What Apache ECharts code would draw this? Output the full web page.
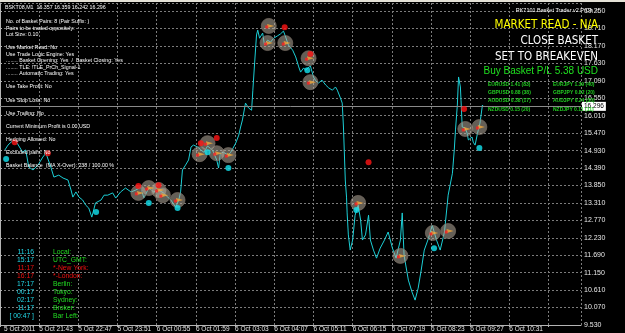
<!DOCTYPE html>
<html><head><meta charset="utf-8">
<script src="https://cdn.jsdelivr.net/npm/echarts@6/dist/echarts.min.js"></script>
<style>html,body{margin:0;padding:0;background:#000;}#c{width:625px;height:333px;}</style>
</head><body><div id="c"></div>
<script>
// ---- data ----
const symbolTitle = 'BSKT08,M1  16.357 16.359 16.242 16.296';
const xLabels = ['5 Oct 2011','5 Oct 21:43','5 Oct 22:47','5 Oct 23:51','6 Oct 00:55','6 Oct 01:59','6 Oct 03:03','6 Oct 04:07','6 Oct 05:11','6 Oct 06:15','6 Oct 07:19','6 Oct 08:23','6 Oct 09:27','6 Oct 10:31'];
const yLabels = ['9.530','10.070','10.610','11.150','11.690','12.230','12.770','13.310','13.850','14.390','14.930','15.470','16.010','16.550','17.090','17.630','18.170','18.710','19.250'];
// minutes since chart start, basket price
const pricePath = [
[8,14.95],[13,15.10],[18,15.19],[23,15.26],[28,15.16],[31,15.10],[37,14.88],[42,14.95],[47,14.42],[54,14.33],
[62,14.48],[70,14.73],[75,14.85],[83,14.42],[88,14.11],[96,14.17],[103,14.08],[111,14.02],[116,13.71],[119,13.49],
[124,13.65],[129,13.49],[135,13.40],[140,13.24],[145,13.15],[150,12.87],[156,13.31],[165,13.40],[170,13.55],[176,13.55],
[184,13.62],[189,13.46],[197,13.65],[205,13.77],[214,13.65],[222,13.71],[230,13.80],[235,13.46],[243,13.77],[251,13.65],
[259,13.71],[267,13.62],[274,13.49],[279,13.40],[287,13.18],[292,13.40],[295,13.65],[298,14.33],[303,14.48],[308,14.64],
[312,15.04],[316,15.10],[323,15.04],[328,14.95],[333,14.88],[339,15.07],[347,14.95],[354,14.64],[357,14.39],[360,14.85],
[365,14.88],[373,14.79],[377,14.88],[385,15.16],[390,15.41],[393,15.66],[396,15.88],[401,16.40],[406,16.25],[411,16.18],
[413,16.80],[416,17.67],[419,18.51],[421,18.66],[424,18.41],[429,18.57],[432,18.20],[437,18.35],[442,18.29],[447,18.41],
[453,18.48],[458,18.54],[463,18.63],[466,18.48],[471,18.20],[478,18.04],[483,17.83],[488,17.52],[491,17.36],[496,17.49],
[499,17.42],[502,17.36],[507,17.55],[512,17.21],[515,17.11],[520,17.02],[526,17.11],[532,16.96],[537,16.87],[543,16.80],
[548,16.90],[551,16.80],[556,16.56],[559,16.40],[561,15.66],[564,14.02],[566,13.49],[567,13.00],[569,12.32],[572,11.85],
[576,12.16],[580,12.93],[585,13.24],[589,12.78],[592,12.16],[597,12.32],[602,12.93],[605,12.16],[610,11.85],[615,11.60],
[621,11.91],[628,12.16],[634,12.41],[641,11.91],[647,11.60],[654,12.16],[657,13.00],[660,11.69],[667,10.92],[673,10.55],
[678,10.30],[683,10.67],[688,11.23],[693,11.85],[700,12.22],[706,12.62],[713,12.16],[719,11.85],[726,12.41],[732,13.55],
[739,14.23],[742,14.95],[744,15.57],[747,16.34],[749,17.21],[752,16.90],[753,16.49],[755,15.66],[760,15.63],[763,15.47],
[765,15.26],[771,15.35],[773,15.19],[776,15.10],[780,15.47],[784,15.78],[788,16.34],[789,16.296]
];
const tradeMarks = [[226,13.62],[243,13.77],[259,13.71],[266,13.55],[290,13.40],[326,14.82],[339,15.16],[354,14.85],[373,14.79],
[439,18.79],[437,18.26],[466,18.26],[504,17.79],[507,17.05],[585,13.31],[654,11.67],[707,12.38],[732,12.44],[760,15.60],[783,15.66]];
const redDots = [[24,15.19],[78,14.85],[226,13.83],[259,13.86],[328,15.16],[354,15.32],[465,18.75],[507,17.92],[602,14.57],[758,16.22]];
const cyanDots = [[10,14.67],[157,13.03],[243,13.31],[290,13.15],[339,14.88],[373,14.39],[502,17.42],[582,13.09],[709,11.91],[783,15.01]];
const bidPrice = 16.296;

const infoLines = ['No. of Basket Pairs: 8 (Pair Suffix: )','Pairs to be traded oppositely:','Lot Size: 0.10','',
'Use Market Read: No','Use Trade Logic Engine: Yes','........ Basket Opening: Yes  /  Basket Closing: Yes','........ TLE: !TLE_PrCh_Signal-1','........ Automatic Trading: Yes','',
'Use Take Profit: No','','Use Stop Loss: No','','Use Trailing: No','','Current Minimum Profit is 0.00 USD','',
'Hedging Allowed: No','','Excluded pairs: No','','Basket Balance  (MA X-Over): 238 / 100.00 %'];
const eaName = 'RK7101 Basket Trader v2.PrCh \u263A';
const bigButtons = ['MARKET READ - N/A','CLOSE BASKET','SET TO BREAKEVEN'];
const plText = 'Buy Basket P/L 5.38 USD';
const pairsLeft = ['EURUSD 1.41 (83)','GBPUSD 0.88 (38)','AUDUSD 0.38 (17)','NZDUSD 0.15 (20)'];
const pairsRight = ['EURJPY 1.39 (40)','GBPJPY 0.82 (20)','AUDJPY 0.24 (30)','NZDJPY 0.11 (11)'];
const clockTimes = ['11:16','15:17','11:17','16:17','17:17','00:17','02:17','11:17','[ 00:47 ]'];
const clockNames = ['Local:','UTC_GMT:','*-New York:','*-London:','Berlin:','Tokyo:','Sydney:','Broker:','Bar Left:'];
const clockRed = [false,false,true,true,false,false,false,false,false];

// ---- drawing ----
const chart = echarts.init(document.getElementById('c'), null, {renderer:'canvas'});
const SMALL = '5.3px "Liberation Sans", Arial, sans-serif';
const gridLine = {show:true, lineStyle:{color:'#7c7c7c', type:[2,2], width:1}};
const graphics = [];
graphics.push({type:'rect', shape:{x:0,y:0,width:625,height:2}, style:{fill:'#e4e1d6'}, z:100});
graphics.push({type:'text', x:5, y:8, style:{text:symbolTitle, fill:'#ffffff', font:SMALL, textVerticalAlign:'middle'}, z:100});
infoLines.forEach((t,i)=>{ if(t) graphics.push({type:'text', x:6, y:21.5+6.55*i, style:{text:t, fill:'#ffffff', font:SMALL, textVerticalAlign:'middle'}, z:100}); });
graphics.push({type:'text', x:600, y:10, style:{text:eaName, fill:'#ffffff', font:'5.5px "Liberation Sans", Arial, sans-serif', textAlign:'right', textVerticalAlign:'middle'}, z:100});
const btnColors = ['#ffff00','#ffffff','#ffffff'];
bigButtons.forEach((t,i)=>{ graphics.push({type:'text', x:598, y:25+16*i, style:{text:t, fill:btnColors[i], font:'11.5px "Liberation Sans Narrow", "DejaVu Sans Condensed", "Liberation Sans", sans-serif', textAlign:'right', textVerticalAlign:'middle'}, z:100}); });
graphics.push({type:'text', x:598, y:71, style:{text:plText, fill:'#1fe01f', font:'10px "Liberation Sans", Arial, sans-serif', textAlign:'right', textVerticalAlign:'middle'}, z:100});
pairsLeft.forEach((t,i)=>{ graphics.push({type:'text', x:488, y:84.5+8.3*i, style:{text:t, fill:'#22cc22', font:'bold 5px "Liberation Sans", Arial, sans-serif', textVerticalAlign:'middle'}, z:100}); });
pairsRight.forEach((t,i)=>{ graphics.push({type:'text', x:553, y:84.5+8.3*i, style:{text:t, fill:'#22cc22', font:'bold 5px "Liberation Sans", Arial, sans-serif', textVerticalAlign:'middle'}, z:100}); });
clockTimes.forEach((t,i)=>{
  const y = 252+8*i;
  graphics.push({type:'text', x:34, y:y, style:{text:t, fill:clockRed[i]?'#ee1111':'#22d8e8', font:'6.8px "Liberation Sans", Arial, sans-serif', textAlign:'right', textVerticalAlign:'middle'}, z:100});
  graphics.push({type:'text', x:53, y:y, style:{text:clockNames[i], fill:clockRed[i]?'#ee1111':'#22dd22', font:'6.8px "Liberation Sans", Arial, sans-serif', textVerticalAlign:'middle'}, z:100});
});

const option = {
  backgroundColor:'#000000',
  animation:false,
  grid:{left:-1, right:44, top:3, bottom:8, containLabel:false},
  xAxis:{type:'value', min:0, max:949, interval:64,
    axisLine:{show:true, lineStyle:{color:'#b4b4b4'}},
    axisTick:{show:true, length:2, lineStyle:{color:'#b4b4b4'}},
    splitLine:gridLine,
    axisLabel:{show:true, showMaxLabel:false, color:'#e6e6e6', fontSize:6.5, fontFamily:'"Liberation Sans", Arial, sans-serif', margin:1, align:'left',
      formatter:(v)=>{ const i=Math.round(v/64); if(i===0) return '{f|'+xLabels[0]+'}'; return xLabels[i]||''; },
      rich:{f:{padding:[0,0,0,4], color:'#e6e6e6', fontSize:6.5, fontFamily:'"Liberation Sans", Arial, sans-serif'}}}
  },
  yAxis:{type:'value', position:'right', min:9.53, max:19.5, interval:0.54,
    axisLine:{show:true, lineStyle:{color:'#b4b4b4'}},
    axisTick:{show:true, length:2, lineStyle:{color:'#b4b4b4'}},
    splitLine:gridLine,
    axisLabel:{show:true, showMaxLabel:false, color:'#e6e6e6', fontSize:7, fontFamily:'"Liberation Sans", Arial, sans-serif', margin:3,
      formatter:(v)=>{ const i=Math.round((v-9.53)/0.54); return yLabels[i]||''; }}
  },
  series:[
    {type:'line', data:pricePath, showSymbol:false, symbol:'none', lineStyle:{color:'#1ccfd6', width:1}, z:2,
      markLine:{silent:true, symbol:'none', lineStyle:{color:'#8a8a8a', type:'solid', width:1},
        label:{show:true, position:'end', formatter:()=>bidPrice.toFixed(3), color:'#000', backgroundColor:'#ffffff', fontSize:6.5, padding:[1,2,1,2], distance:1},
        data:[{yAxis:bidPrice}]}},
    {type:'scatter', data:tradeMarks, symbol:'circle', symbolSize:15, itemStyle:{color:'rgba(185,175,160,0.68)', borderColor:'rgba(120,110,100,0.9)', borderWidth:1}, z:4},
    {type:'scatter', data:tradeMarks, symbol:'triangle', symbolSize:[4,7], symbolRotate:-90, symbolOffset:[2,0], itemStyle:{color:'#f2a93b'}, z:5},
    {type:'scatter', data:tradeMarks, symbol:'rect', symbolSize:3, symbolOffset:[-2,1], itemStyle:{color:'#ff2020'}, z:5},
    {type:'scatter', data:redDots, symbol:'circle', symbolSize:6, itemStyle:{color:'#ff1414'}, z:6},
    {type:'scatter', data:cyanDots, symbol:'circle', symbolSize:6, itemStyle:{color:'#13e3f0'}, z:6}
  ],
  graphic:graphics
};
chart.setOption(option);
</script></body></html>
